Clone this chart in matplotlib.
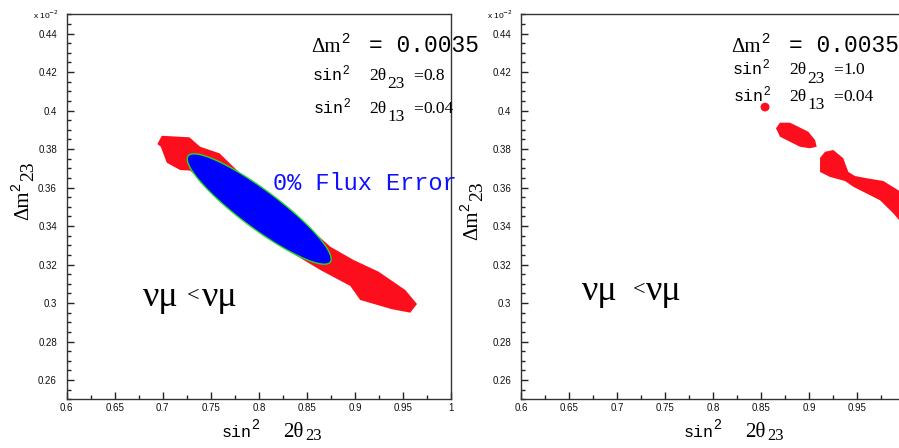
import numpy as np
import matplotlib.pyplot as plt
from matplotlib.patches import Ellipse
from matplotlib.ticker import MultipleLocator, FormatStrFormatter

plt.rcParams['font.family'] = ['Liberation Sans', 'DejaVu Sans']

# axis ranges (dm2 in units of 1e-2)
x_lim = (0.6, 1.0)
y_lim = (0.25, 0.45)
x_ticks = [0.6, 0.65, 0.7, 0.75, 0.8, 0.85, 0.9, 0.95, 1.0]
y_ticks = [0.26, 0.28, 0.30, 0.32, 0.34, 0.36, 0.38, 0.40, 0.42, 0.44]

# left panel: red contour (with flux error)
left_red_x = [0.699, 0.7277, 0.7389, 0.759, 0.7805, 0.8569, 0.8743, 0.8985, 0.9246,
              0.9524, 0.9646, 0.9576, 0.9385, 0.9055, 0.8951, 0.8639, 0.8378,
              0.7284, 0.7180, 0.7042, 0.6979, 0.6944]
left_red_y = [0.3869, 0.3861, 0.3812, 0.3778, 0.3674, 0.3371, 0.3293, 0.3224, 0.3163,
              0.3068, 0.2995, 0.2950, 0.2968, 0.3016, 0.3089, 0.3172, 0.3250,
              0.3688, 0.3691, 0.3729, 0.3812, 0.3826]

# left panel: blue contour (0% flux error), ellipse end points + half width (axes fraction)
ell_end_a = (0.7264, 0.3764)
ell_end_b = (0.8743, 0.3213)
ell_half_width = 0.0495

# right panel: red islands
right_dot_xy = (0.8542, 0.4018)
right_dot_size = (0.0094, 0.0045)
blob1_x = [0.8656, 0.8698, 0.8802, 0.8993, 0.9063, 0.9080, 0.9010, 0.8906, 0.8802, 0.8698]
blob1_y = [0.3908, 0.3937, 0.3937, 0.3890, 0.3847, 0.3812, 0.3804, 0.3812, 0.3838, 0.3864]
blob2_x = [0.9115, 0.9167, 0.9253, 0.9357, 0.9410, 0.9479, 0.9583, 0.9774, 0.9927, 1.0052,
           1.0052, 0.9937, 0.9878, 0.9740, 0.9462, 0.9375, 0.9219, 0.9115]
blob2_y = [0.3754, 0.3786, 0.3795, 0.3752, 0.3681, 0.3660, 0.3650, 0.3634, 0.3587, 0.3546,
           0.3390, 0.3432, 0.3466, 0.3534, 0.3604, 0.3634, 0.3655, 0.3681]

left_params = ['0.8', '0.04']
right_params = ['1.0', '0.04']

RED = '#fc0e1c'
W, H = 899, 448
MONO = ['Liberation Mono', 'DejaVu Sans Mono']
SERIF = ['Liberation Serif', 'DejaVu Serif']
SANS = ['Liberation Sans', 'DejaVu Sans']


def ellipse_outline(p1, p2, hw):
    # build the ellipse in axes fraction (square axes) and map back to data
    fx = lambda x: (x - x_lim[0]) / (x_lim[1] - x_lim[0])
    fy = lambda y: (y - y_lim[0]) / (y_lim[1] - y_lim[0])
    a1 = np.array([fx(p1[0]), fy(p1[1])])
    a2 = np.array([fx(p2[0]), fy(p2[1])])
    c = (a1 + a2) / 2
    d = a2 - a1
    semi = np.hypot(*d) / 2
    ang = np.arctan2(d[1], d[0])
    t = np.linspace(0, 2 * np.pi, 300)
    u, v = semi * np.cos(t), hw * np.sin(t)
    px = c[0] + u * np.cos(ang) - v * np.sin(ang)
    py = c[1] + u * np.sin(ang) + v * np.cos(ang)
    return (x_lim[0] + px * (x_lim[1] - x_lim[0]),
            y_lim[0] + py * (y_lim[1] - y_lim[0]))


def pieces(x0, y0, parts, rot=0, color='black'):
    # x0, y0 in pixels from the top-left; each part: text, family, size, dx, raise
    for s, fam, size, dx, up in parts:
        if rot == 90:
            x, y = x0 - up, y0 - dx
        else:
            x, y = x0 + dx, y0 - up
        fig.text(x / W, 1 - y / H, s, family=fam, fontsize=size, color=color,
                 ha='left', va='baseline', rotation=rot, rotation_mode='anchor')


def style_axes(ax, xt):
    ax.set_xlim(*x_lim)
    ax.set_ylim(*y_lim)
    ax.set_xticks(xt)
    ax.set_yticks(y_ticks)
    ax.xaxis.set_minor_locator(MultipleLocator(0.025))
    ax.yaxis.set_minor_locator(MultipleLocator(0.005))
    ax.xaxis.set_major_formatter(FormatStrFormatter('%g'))
    ax.yaxis.set_major_formatter(FormatStrFormatter('%g'))
    ax.tick_params(which='both', direction='in', top=False, right=False,
                   width=1.0, color='#222222', labelsize=7, labelcolor='#111111')
    ax.tick_params(which='major', length=5)
    ax.tick_params(which='minor', length=3)
    ax.tick_params(axis='x', pad=3)
    ax.tick_params(axis='y', pad=7)
    for s in ax.spines.values():
        s.set_linewidth(1.0)
        s.set_color('#333333')


fig = plt.figure(figsize=(W / 100, H / 100), dpi=100)
ax1 = fig.add_axes([66.7 / W, 48.7 / H, 384.3 / W, 385 / H])
ax2 = fig.add_axes([521 / W, 48.7 / H, 384 / W, 385 / H])
style_axes(ax1, x_ticks)
style_axes(ax2, x_ticks[:-1])

# left panel contours
ax1.fill(left_red_x, left_red_y, color=RED, lw=0)
ex, ey = ellipse_outline(ell_end_a, ell_end_b, ell_half_width)
ax1.fill(ex, ey, facecolor='#0000ff', edgecolor='#22dd22', lw=1.0)
ax1.text(0.8149, 0.3587, '0% Flux Error', family=MONO, fontsize=17,
         color='#1010ff', va='baseline', clip_on=False)

# right panel contours
ax2.add_patch(Ellipse(right_dot_xy, right_dot_size[0], right_dot_size[1], color=RED, lw=0))
ax2.fill(blob1_x, blob1_y, color=RED, lw=0)
ax2.fill(blob2_x, blob2_y, color=RED, lw=0)

# parameter boxes
for (xa, ya, yb, yc, p) in [(311.7, 51.7, 80, 113.3, left_params),
                            (731.7, 51.7, 74.3, 101, right_params)]:
    pieces(xa, ya, [('Δm', SERIF, 15, 0, 0), ('2', SANS, 10.5, 30, 8.4),
                    ('= 0.0035', MONO, 16.5, 57, 0)])
    pieces(xa + 1, yb, [('sin', MONO, 12, 0, 0), ('2', SANS, 8.5, 30, 6),
                        ('2θ', SERIF, 12.5, 57, 0), ('23', SERIF, 12.5, 75, -8.5),
                        ('=', SERIF, 12.5, 100, 0), (p[0], SERIF, 12.5, 111, 0)])
    pieces(xa + 2, yc, [('sin', MONO, 12, 0, 0), ('2', SANS, 8.5, 30, 6),
                        ('2θ', SERIF, 12.5, 56, 0), ('13', SERIF, 12.5, 74, -8),
                        ('=', SERIF, 12.5, 99, 0), (p[1], SERIF, 12.5, 110, 0)])

# channel labels
pieces(143.3, 305.7, [('νμ', SERIF, 26, 0, 0), ('<', SERIF, 16, 44, 5),
                      ('νμ', SERIF, 26, 59, 0)])
pieces(581.7, 300, [('νμ', SERIF, 26, 0, 0), ('<', SERIF, 16, 51, 5),
                    ('νμ', SERIF, 26, 64.5, 0)])

# axis titles and exponent labels
for xs, ys in [(221.7, 437.3), (683.3, 437.3)]:
    pieces(xs, ys, [('sin', MONO, 12, 0, 0), ('2', SANS, 10, 30, 8.5),
                    ('2θ', SERIF, 15, 61.6, 0), ('23', SERIF, 12, 83.5, -3)])
for xs, ys in [(28.3, 220), (477, 240)]:
    pieces(xs, ys, [('Δm', SERIF, 15, 0, 0), ('2', SANS, 10, 29, 8),
                    ('23', SERIF, 14, 39, -5)], rot=90)
for xe in [33, 487]:
    fig.text(xe / W, 1 - 15 / H, r'x 10$^{-2}$', fontsize=6, ha='left', va='center')

fig.savefig('out.png', dpi=100)
